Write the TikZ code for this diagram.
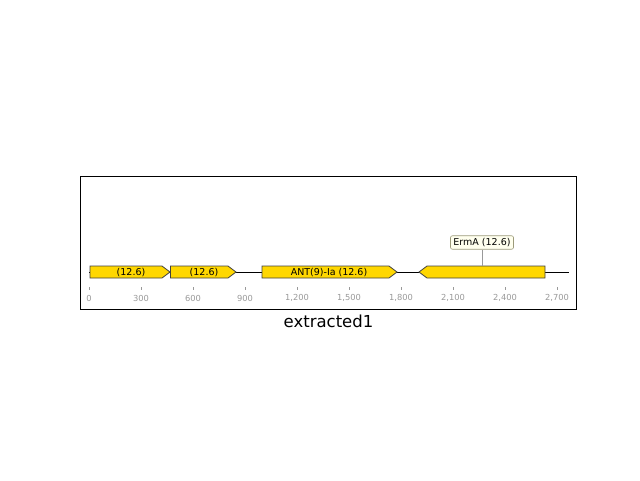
\documentclass[tikz,border=0pt]{standalone}
\usepackage{fontspec}
\setmainfont{DejaVu Sans}
\definecolor{gold}{HTML}{FFD700}
\definecolor{featedge}{HTML}{404040}
\definecolor{tickgray}{HTML}{999999}
\definecolor{boxfill}{HTML}{FFFFEE}
\definecolor{boxedge}{HTML}{9C9A7A}
\tikzset{
  feat/.style={fill=gold, draw=featedge, line width=0.8pt, line join=miter},
  flabel/.style={font=\fontsize{9.5}{10}\selectfont, inner sep=0pt},
  ticklab/.style={font=\fontsize{8.3}{9}\selectfont, text=tickgray, inner sep=0pt},
  tickmark/.style={draw=tickgray, line width=0.6pt},
  callout/.style={draw=boxedge, fill=boxfill, rounded corners=2pt, line width=0.6pt, font=\fontsize{9.5}{10}\selectfont, inner xsep=3pt, inner ysep=2.5pt},
}
\begin{document}
\begin{tikzpicture}[x=1pt,y=-1pt]
\useasboundingbox (0,0) rectangle (640,480);
% frame
\draw[line width=0.8pt] (80,176) rectangle (576,309);
% axis line
\coordinate (axL) at (89,272);
\coordinate (axR) at (569,272);
\draw[line width=0.8pt] (axL) -- (axR);
% ticks
\foreach \v/\lab in {0/0,300/300,600/600,900/900,1200/{1,200},1500/{1,500},1800/{1,800},2100/{2,100},2400/{2,400},2700/{2,700}}{
  \pgfmathsetmacro{\xx}{89+\v*0.17333}
  \draw[tickmark] (\xx,287) -- (\xx,290);
  \node[ticklab] (t\v) at (\xx,298) {\lab};
}
% features
\draw[feat] (90,266) -- (162,266) -- (170,272) -- (162,278) -- (90,278) -- cycle;
\node[flabel] (f1) at (131,272.5) {(12.6)};
\draw[feat] (170.5,266) -- (228,266) -- (236,272) -- (228,278) -- (170.5,278) -- cycle;
\node[flabel] (f2) at (204,272.5) {(12.6)};
\draw[feat] (262,266) -- (389,266) -- (397,272) -- (389,278) -- (262,278) -- cycle;
\node[flabel] (f3) at (329,272.5) {ANT(9)-Ia (12.6)};
\draw[feat] (545,266) -- (427,266) -- (419,272) -- (427,278) -- (545,278) -- cycle;
\coordinate (f4top) at (482,266);
\node[callout] (f4lab) at (482,242.5) {ErmA (12.6)};
\draw[draw=tickgray, line width=0.6pt] (f4lab.south) -- (f4top);
% title
\node[font=\fontsize{16.5}{18}\selectfont, inner sep=0pt] (title) at (328.5,321) {extracted1};
\end{tikzpicture}
\end{document}
